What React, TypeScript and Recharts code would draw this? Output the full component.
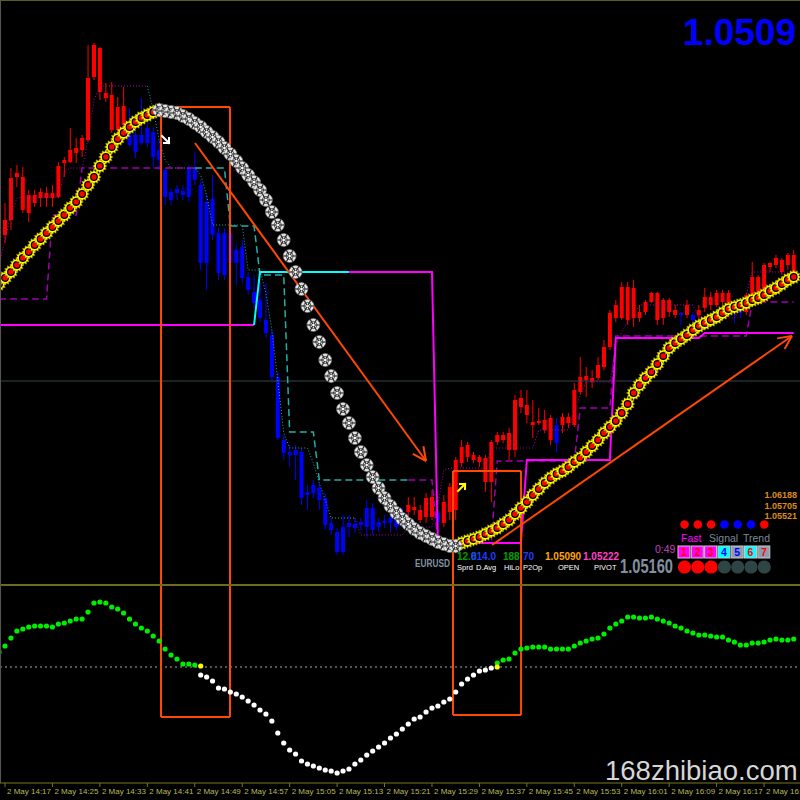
import React from 'react';
import { ComposedChart, Bar, Line, XAxis, YAxis, ReferenceLine, ReferenceDot } from 'recharts';

// prices in points above 1.04800 (1 point = 0.00001)
const openPts = [
  362, 390, 405, 448, 415, 412, 422, 427, 427, 427,
  428, 462, 463, 472, 475, 485, 548, 533, 527, 495,
  495, 500, 502, 490, 490, 497, 493, 475, 455, 433,
  436, 434, 457, 457, 440, 423, 426, 392, 392, 392,
  375, 378, 348, 333, 325, 305, 290, 248, 185, 173,
  175, 173, 133, 140, 137, 127, 102, 93, 98, 102,
  101, 103, 117, 117, 103, 104, 107, 113, 113, 113,
  115, 105, 108, 108, 112, 102, 113, 115, 162, 168,
  165, 163, 143, 143, 183, 185, 175, 175, 218, 210,
  200, 202, 195, 185, 200, 200, 202, 200, 233, 245,
  243, 247, 258, 278, 307, 307, 305, 307, 307, 313,
  323, 305, 307, 313, 310, 312, 310, 310, 310, 317,
  320, 320, 323, 312, 317, 317, 313, 330, 332, 327,
  358, 360, 353, 360, 348,
];
const closePts = [
  422, 405, 447, 452, 448, 430, 430, 433, 432, 432,
  459, 465, 475, 477, 487, 547, 580, 577, 532, 530,
  518, 519, 480, 473, 482, 482, 468, 465, 428, 425,
  432, 430, 428, 445, 362, 362, 390, 352, 350, 362,
  362, 347, 335, 322, 307, 292, 248, 187, 172, 170,
  170, 127, 130, 132, 125, 100, 95, 73, 73, 98,
  97, 100, 98, 95, 98, 102, 102, 98, 102, 120,
  118, 115, 127, 128, 103, 123, 138, 165, 178, 180,
  170, 168, 167, 183, 190, 190, 192, 225, 227, 220,
  203, 204, 205, 207, 182, 208, 208, 235, 248, 249,
  247, 260, 278, 312, 320, 338, 338, 337, 313, 323,
  332, 332, 325, 325, 315, 310, 320, 305, 315, 328,
  328, 332, 332, 332, 313, 312, 330, 348, 348, 360,
  362, 367, 365, 370, 370,
];
const highPts = [
  427, 422, 457, 460, 458, 435, 435, 437, 438, 440,
  463, 468, 497, 487, 490, 580, 582, 578, 542, 543,
  528, 538, 517, 495, 527, 502, 497, 485, 457, 437,
  440, 440, 460, 473, 445, 430, 450, 397, 397, 397,
  380, 385, 353, 350, 343, 342, 295, 253, 190, 180,
  180, 177, 140, 145, 142, 132, 107, 97, 110, 110,
  107, 107, 125, 122, 107, 110, 112, 120, 117, 128,
  128, 120, 132, 135, 115, 130, 142, 168, 185, 183,
  173, 170, 170, 185, 193, 193, 197, 230, 235, 235,
  225, 217, 215, 210, 207, 212, 212, 242, 268, 258,
  255, 268, 285, 315, 325, 343, 343, 345, 320, 325,
  333, 333, 327, 327, 320, 313, 325, 313, 320, 337,
  333, 335, 335, 335, 320, 320, 332, 363, 350, 362,
  363, 370, 367, 372, 375,
];
const lowPts = [
  355, 382, 395, 438, 412, 403, 418, 418, 418, 418,
  427, 448, 462, 462, 468, 483, 545, 525, 523, 492,
  493, 495, 478, 467, 480, 478, 458, 455, 420, 420,
  425, 425, 423, 440, 355, 335, 385, 345, 345, 350,
  340, 342, 330, 317, 303, 287, 245, 185, 165, 158,
  145, 120, 115, 127, 115, 95, 90, 70, 70, 88,
  92, 95, 88, 90, 93, 97, 93, 95, 97, 105,
  110, 102, 102, 105, 98, 98, 105, 105, 158, 163,
  162, 158, 133, 123, 180, 182, 165, 168, 212, 202,
  187, 200, 192, 180, 173, 192, 197, 198, 230, 228,
  237, 245, 255, 275, 303, 305, 300, 298, 303, 310,
  322, 300, 300, 308, 307, 300, 307, 297, 305, 313,
  315, 318, 320, 308, 302, 307, 310, 327, 328, 325,
  353, 357, 350, 355, 345,
];

// moving average, yellow while rising, white while falling
const maPts = [
  341, 347, 353, 360, 367, 373, 380, 386, 392, 398,
  404, 410, 417, 423, 431, 440, 448, 459, 468, 478,
  486, 492, 498, 503, 507, 510, 513, 515, 514, 513,
  512, 509, 506, 502, 498, 493, 488, 483, 477, 471,
  464, 457, 450, 443, 435, 425, 413, 400, 385, 369,
  353, 336, 319, 300, 283, 265, 249, 232, 216, 202,
  187, 173, 160, 148, 137, 127, 119, 112, 106, 101,
  96, 92, 89, 86, 83, 81, 79, 79, 82, 84,
  86, 88, 91, 94, 97, 101, 105, 111, 117, 123,
  130, 136, 142, 147, 151, 154, 158, 163, 167, 173,
  179, 185, 192, 198, 204, 212, 221, 232, 240, 247,
  253, 261, 269, 277, 282, 286, 290, 295, 299, 302,
  305, 308, 312, 316, 318, 320, 322, 325, 327, 330,
  334, 337, 341, 345, 348,
];
const maTurns = [27, 77];

// lower oscillator
const oscVals = [
  15, 21, 29, 36, 38, 40, 41, 41, 41, 40,
  43, 44, 46, 48, 48, 55, 64, 65, 64, 60,
  58, 54, 48, 43, 39, 36, 31, 26, 18, 12,
  8, 3, 3, 2, -8, -10, -14, -21, -22, -25,
  -27, -30, -34, -38, -43, -47, -54, -66, -76, -83,
  -87, -94, -97, -99, -101, -103, -104, -106, -104, -102,
  -97, -93, -88, -84, -80, -76, -71, -67, -62, -57,
  -52, -50, -45, -41, -39, -35, -32, -25, -17, -12,
  -8, -4, -3, -1, 4, 7, 8, 14, 18, 19,
  20, 20, 20, 18, 18, 18, 18, 21, 24, 26,
  28, 29, 33, 39, 43, 46, 50, 50, 49, 49,
  50, 48, 46, 44, 41, 39, 36, 34, 32, 32,
  31, 30, 30, 27, 25, 22, 22, 24, 24, 25,
  27, 28, 27, 27, 28,
];
const oscCross = [[34, 1], [84, 0]];

// step levels: [fromBar, toBar, level]
const magentaSolidRuns = [[0, 43, 300], [59, 73, 353], [74, 88, 82], [89, 103, 165], [104, 118, 287], [119, 134, 292]];
const cyanSolidRuns = [[43, 43, 300], [44, 59, 353]];
const purpleDashRuns = [[0, 8, 326], [9, 13, 410], [14, 33, 457], [69, 73, 145], [74, 83, 82], [84, 97, 164], [98, 103, 217], [104, 126, 289], [127, 134, 323]];
const tealDashRuns = [[33, 38, 457], [39, 43, 399], [44, 48, 350], [49, 53, 193], [54, 69, 145]];
const purpleDotRuns = [
  [0, 0, 360], [1, 1, 385], [2, 2, 410], [3, 3, 427], [4, 10, 428], [11, 11, 453], [12, 14, 457], [15, 15, 485], [16, 16, 525], [17, 25, 539],
  [60, 60, 107], [61, 68, 90], [69, 73, 98], [74, 74, 120], [75, 75, 155], [76, 82, 157], [83, 90, 177], [91, 96, 195], [97, 97, 215], [98, 98, 230],
  [99, 103, 243], [104, 104, 280], [105, 105, 293], [106, 106, 303], [107, 107, 310], [108, 117, 320], [118, 124, 307], [125, 125, 320], [126, 126, 330], [127, 134, 353],
];
const tealDotRuns = [
  [25, 25, 539], [26, 26, 515], [27, 27, 485], [28, 28, 465], [29, 33, 457], [34, 34, 450], [35, 35, 430], [36, 41, 400], [42, 44, 355],
  [45, 45, 332], [46, 46, 295], [47, 47, 245], [48, 48, 192], [49, 52, 177], [53, 53, 162], [54, 54, 142], [55, 55, 125], [56, 60, 107],
];
const grayLevel = 244;

const tickIdx = [1, 9, 17, 25, 33, 41, 49, 57, 65, 73, 81, 89, 97, 105, 113, 121, 129];
const tickLabels = [
  '2 May 14:17', '2 May 14:25', '2 May 14:33', '2 May 14:41', '2 May 14:49', '2 May 14:57',
  '2 May 15:05', '2 May 15:13', '2 May 15:21', '2 May 15:29', '2 May 15:37', '2 May 15:45',
  '2 May 15:53', '2 May 16:01', '2 May 16:09', '2 May 16:17', '2 May 16:25',
];

// annotation boxes and arrows, in bar / point units
const boxes = [
  { x1: 27.31, x2: 38.94, top: 518, bottom: -50 },
  { x1: 76.55, x2: 88.02, top: 154, bottom: -48 },
];
const trendArrows = [
  [{ x: 33.04, y: 482 }, { x: 72.0, y: 164 }],
  [{ x: 83.13, y: 80 }, { x: 133.7, y: 289 }],
];

const N = openPts.length;
const X_DOMAIN = [0.157, 135.06];
const MAIN_TOP = 625;
const MAIN_BOTTOM = 40;
const LOW_DOMAIN = [-116, 82];
const ORANGE = '#ff4800';
const FONT = '"Liberation Sans", Arial, sans-serif';

const expand = (runs: number[][]) => {
  const a: (number | null)[] = new Array(N).fill(null);
  runs.forEach(([s, e, v]) => {
    for (let k = s; k <= e; k++) a[k] = v;
  });
  return a;
};

const magSolid = expand(magentaSolidRuns);
const cyanSolid = expand(cyanSolidRuns);
const purpleDash = expand(purpleDashRuns);
const tealDash = expand(tealDashRuns);
const purpleDot = expand(purpleDotRuns);
const tealDot = expand(tealDotRuns);

const mainRows = openPts.map((o, i) => ({
  i,
  open: o,
  close: closePts[i],
  high: highPts[i],
  low: lowPts[i],
  range: [lowPts[i], highPts[i]],
  maUp: i <= maTurns[0] || i >= maTurns[1] ? maPts[i] : null,
  maDown: i >= maTurns[0] && i <= maTurns[1] ? maPts[i] : null,
  mag: magSolid[i],
  cyan: cyanSolid[i],
  pDash: purpleDash[i],
  tDash: tealDash[i],
  pDot: purpleDot[i],
  tDot: tealDot[i],
}));

const lowRows = oscVals.map((v, i) => {
  const c = oscCross.find((p) => p[0] === i);
  return { i, osc: v, cross: c ? c[1] : null };
});

const renderCandle = (props: any) => {
  const { x, y, width, height, payload } = props;
  if (!payload || x == null) return <g />;
  const { open, close, high, low } = payload;
  const top = Math.min(y, y + height);
  const h = Math.abs(height);
  const span = high - low || 1;
  const py = (p: number) => top + ((high - p) / span) * h;
  const color = close >= open ? '#ff0000' : '#0000ff';
  const cx = x + width / 2;
  const bTop = py(Math.max(open, close));
  const bBot = py(Math.min(open, close));
  return (
    <g>
      <line x1={cx} x2={cx} y1={top} y2={top + h} stroke={color} strokeWidth={1} />
      <rect x={x} y={bTop} width={width} height={Math.max(1, bBot - bTop)} fill={color} />
    </g>
  );
};

const gearPoints = (cx: number, cy: number) => {
  const pts: string[] = [];
  for (let k = 0; k < 24; k++) {
    const r = k % 2 === 0 ? 7.2 : 5.2;
    const a = (k * Math.PI) / 12;
    pts.push(`${cx + r * Math.cos(a)},${cy + r * Math.sin(a)}`);
  }
  return pts.join(' ');
};

const yellowDot = (p: any) => {
  const { cx, cy, index, value } = p;
  if (value == null || cy == null) return <g key={`y${index}`} />;
  return (
    <g key={`y${index}`}>
      <polygon points={gearPoints(cx, cy)} fill="#ffff00" stroke="#9a8a00" strokeWidth={0.5} />
      <circle cx={cx} cy={cy} r={3.3} fill="#ff0000" stroke="#000" strokeWidth={1.2} />
    </g>
  );
};

const snowDot = (p: any) => {
  const { cx, cy, index, value } = p;
  if (value == null || cy == null) return <g key={`s${index}`} />;
  const r = 6.5;
  const spokes = [0, 60, 120].map((d) => {
    const a = (d * Math.PI) / 180;
    return (
      <line key={d} x1={cx - r * Math.cos(a)} y1={cy - r * Math.sin(a)} x2={cx + r * Math.cos(a)} y2={cy + r * Math.sin(a)} stroke="#222" strokeWidth={1.1} />
    );
  });
  return (
    <g key={`s${index}`}>
      <circle cx={cx} cy={cy} r={r} fill="#e6e6e6" stroke="#777" strokeWidth={0.6} />
      {spokes}
      <circle cx={cx} cy={cy} r={3.6} fill="none" stroke="#333" strokeWidth={0.8} />
      <circle cx={cx} cy={cy} r={1.3} fill="#fff" />
    </g>
  );
};

const oscDot = (p: any) => {
  const { cx, cy, index, value } = p;
  if (value == null || cy == null) return <g key={`o${index}`} />;
  return <circle key={`o${index}`} cx={cx} cy={cy} r={2.6} fill={value > 0 ? '#00ee00' : '#ffffff'} />;
};

const crossDot = (p: any) => {
  const { cx, cy, index, value } = p;
  if (value == null || cy == null) return <g key={`c${index}`} />;
  return <circle key={`c${index}`} cx={cx} cy={cy} r={2.6} fill="#ffff00" />;
};

const arrowShape = (p: any) => {
  const { x1, y1, x2, y2 } = p;
  const a = Math.atan2(y2 - y1, x2 - x1);
  const L = 15;
  const w = 0.45;
  return (
    <g>
      <line x1={x1} y1={y1} x2={x2} y2={y2} stroke={ORANGE} strokeWidth={2} />
      <line x1={x2} y1={y2} x2={x2 - L * Math.cos(a - w)} y2={y2 - L * Math.sin(a - w)} stroke={ORANGE} strokeWidth={2} />
      <line x1={x2} y1={y2} x2={x2 - L * Math.cos(a + w)} y2={y2 - L * Math.sin(a + w)} stroke={ORANGE} strokeWidth={2} />
    </g>
  );
};

const smallArrow = (color: string, down: boolean) => (p: any) => {
  const { cx, cy } = p;
  const s = down ? 1 : -1;
  return (
    <g stroke={color} strokeWidth={2} fill="none" strokeLinecap="square">
      <line x1={cx - 4} y1={cy - 4 * s} x2={cx + 3} y2={cy + 3 * s} />
      <polyline points={`${cx + 3},${cy - 2 * s} ${cx + 3},${cy + 3 * s} ${cx - 2},${cy + 3 * s}`} />
    </g>
  );
};

const AxisTick = (props: any) => {
  const { x, y, payload } = props;
  const k = tickIdx.indexOf(payload.value);
  return (
    <text x={x + 2} y={y + 7} fill="#b8b85c" fontSize={8} fontFamily={FONT} textAnchor="start">
      {k >= 0 ? tickLabels[k] : ''}
    </text>
  );
};

const boxCols = ['#ff00ff', '#ff00ff', '#ff00ff', '#00ffff', '#8c9cb0', '#00ffff', '#8c9cb0'];
const boxText = ['#ff0000', '#ff0000', '#ff0000', '#0000ff', '#0000ff', '#ff0000', '#ff0000'];
const dotCols = ['#ff0000', '#ff0000', '#ff0000', '#0000ff', '#0000ff', '#0000ff', '#ff0000'];
const lampCols = ['#ff0000', '#ff0000', '#ff0000', '#2f4545', '#2f4545', '#2f4545', '#2f4545'];

const App: React.FC = () => {
  return (
    <div style={{ position: 'absolute', left: 0, top: 0, width: 800, height: 800, background: '#000', overflow: 'hidden' }}>
      <div style={{ position: 'absolute', left: 0, top: 0 }}>
        <ComposedChart width={800} height={585} data={mainRows} margin={{ top: 0, right: 0, bottom: 0, left: 0 }}>
          <XAxis type="number" dataKey="i" domain={X_DOMAIN} allowDataOverflow hide />
          <YAxis type="number" domain={[MAIN_BOTTOM, MAIN_TOP]} allowDataOverflow hide />
          <ReferenceLine y={grayLevel} stroke="#354848" strokeWidth={1} />
          <Bar dataKey="range" barSize={4} shape={renderCandle} isAnimationActive={false} />
          <Line dataKey="pDot" stroke="#b000b0" strokeWidth={1} strokeDasharray="1 2" dot={false} isAnimationActive={false} />
          <Line dataKey="tDot" stroke="#20a8a0" strokeWidth={1} strokeDasharray="1 2" dot={false} isAnimationActive={false} />
          <Line dataKey="pDash" stroke="#a000b0" strokeWidth={1.5} strokeDasharray="7 4" dot={false} isAnimationActive={false} />
          <Line dataKey="tDash" stroke="#20b0a8" strokeWidth={1.5} strokeDasharray="7 4" dot={false} isAnimationActive={false} />
          <Line dataKey="mag" stroke="#ff00ff" strokeWidth={2} dot={false} isAnimationActive={false} />
          <Line dataKey="cyan" stroke="#00ffff" strokeWidth={2} dot={false} isAnimationActive={false} />
          <Line dataKey="maUp" stroke="#ffff00" strokeWidth={2} dot={yellowDot} isAnimationActive={false} />
          <Line dataKey="maDown" stroke="none" dot={snowDot} isAnimationActive={false} />
          {boxes.map((b, k) => (
            <ReferenceLine key={`bl${k}`} segment={[{ x: b.x1, y: b.top }, { x: b.x1, y: MAIN_BOTTOM }]} stroke={ORANGE} strokeWidth={2} />
          ))}
          {boxes.map((b, k) => (
            <ReferenceLine key={`br${k}`} segment={[{ x: b.x2, y: b.top }, { x: b.x2, y: MAIN_BOTTOM }]} stroke={ORANGE} strokeWidth={2} />
          ))}
          {boxes.map((b, k) => (
            <ReferenceLine key={`bt${k}`} segment={[{ x: b.x1, y: b.top }, { x: b.x2, y: b.top }]} stroke={ORANGE} strokeWidth={2} />
          ))}
          {trendArrows.map((s, k) => (
            <ReferenceLine key={`ar${k}`} segment={s} shape={arrowShape} />
          ))}
          <ReferenceDot x={28.15} y={485} r={0} shape={smallArrow('#ffffff', true)} />
          <ReferenceDot x={78.07} y={138} r={0} shape={smallArrow('#ffff00', false)} />
        </ComposedChart>
      </div>
      <div style={{ position: 'absolute', left: 0, top: 585 }}>
        <ComposedChart width={800} height={215} data={lowRows} margin={{ top: 0, right: 0, bottom: 0, left: 0 }}>
          <XAxis
            type="number"
            dataKey="i"
            domain={X_DOMAIN}
            allowDataOverflow
            ticks={tickIdx}
            interval={0}
            height={17}
            tickSize={4}
            tickMargin={0}
            axisLine={{ stroke: '#78781e' }}
            tickLine={{ stroke: '#78781e' }}
            tick={<AxisTick />}
          />
          <YAxis type="number" domain={LOW_DOMAIN} allowDataOverflow hide />
          <ReferenceLine y={0} stroke="#aaaaaa" strokeDasharray="2 3" />
          <Line dataKey="osc" stroke="none" dot={oscDot} isAnimationActive={false} />
          <Line dataKey="cross" stroke="none" dot={crossDot} isAnimationActive={false} />
          {boxes.map((b, k) => (
            <ReferenceLine key={`ll${k}`} segment={[{ x: b.x1, y: LOW_DOMAIN[1] }, { x: b.x1, y: b.bottom }]} stroke={ORANGE} strokeWidth={2} />
          ))}
          {boxes.map((b, k) => (
            <ReferenceLine key={`lr${k}`} segment={[{ x: b.x2, y: LOW_DOMAIN[1] }, { x: b.x2, y: b.bottom }]} stroke={ORANGE} strokeWidth={2} />
          ))}
          {boxes.map((b, k) => (
            <ReferenceLine key={`lb${k}`} segment={[{ x: b.x1, y: b.bottom }, { x: b.x2, y: b.bottom }]} stroke={ORANGE} strokeWidth={2} />
          ))}
        </ComposedChart>
      </div>
      <svg width={800} height={800} style={{ position: 'absolute', left: 0, top: 0, pointerEvents: 'none' }} fontFamily={FONT}>
        <line x1={0} x2={800} y1={0.5} y2={0.5} stroke="#5c5c1c" />
        <line x1={0} x2={800} y1={585} y2={585} stroke="#6c6c1c" strokeWidth={2} />
        <line x1={0.5} x2={0.5} y1={0} y2={783} stroke="#555" />
        <text x={796} y={45} textAnchor="end" fontSize={37} fontWeight="bold" fill="#0000ff">1.0509</text>
        <text x={605} y={780} fontSize={27.5} fill="#d6d6d6">168zhibiao.com</text>

        <text x={797} y={498} textAnchor="end" fontSize={9} fontWeight="bold" fill="#dc8c1c">1.06188</text>
        <text x={797} y={508.5} textAnchor="end" fontSize={9} fontWeight="bold" fill="#dc8c1c">1.05705</text>
        <text x={797} y={519} textAnchor="end" fontSize={9} fontWeight="bold" fill="#dc8c1c">1.05521</text>
        {dotCols.map((c, k) => (
          <circle key={`dc${k}`} cx={684.5 + 13.3 * k} cy={524.5} r={4.3} fill={c} />
        ))}
        <text x={681} y={542} fontSize={10.5} fill="#ff00ff">Fast</text>
        <text x={709} y={542} fontSize={10.5} fill="#7a8a9a">Signal</text>
        <text x={743} y={542} fontSize={10.5} fill="#7a8a9a">Trend</text>
        {boxCols.map((c, k) => (
          <g key={`bx${k}`}>
            <rect x={678 + 13.3 * k} y={546} width={12} height={12} fill={c} stroke="#c8c8c8" strokeWidth={1} />
            <text x={684 + 13.3 * k} y={556} textAnchor="middle" fontSize={10.5} fontWeight="bold" fill={boxText[k]}>{k + 1}</text>
          </g>
        ))}
        {lampCols.map((c, k) => (
          <circle key={`lc${k}`} cx={684.5 + 13.3 * k} cy={567} r={6.6} fill={c} />
        ))}
        <text x={655} y={553} fontSize={10.5} fill="#c040c0">0:49</text>
        <text x={620} y={573} fontSize={21} fontWeight="bold" fill="#8090a0" textLength={53} lengthAdjust="spacingAndGlyphs">1.05160</text>
        <text x={415} y={567} fontSize={11} fontWeight="bold" fill="#8090a0" textLength={35} lengthAdjust="spacingAndGlyphs">EURUSD</text>

        <text x={457} y={560} fontSize={10} fontWeight="bold" fill="#00a000">12.0</text>
        <text x={471} y={560} fontSize={10} fontWeight="bold" fill="#1e3cff">814.0</text>
        <text x={503} y={560} fontSize={10} fontWeight="bold" fill="#00a000">188</text>
        <text x={523} y={560} fontSize={10} fontWeight="bold" fill="#1e3cff">70</text>
        <text x={545} y={560} fontSize={10} fontWeight="bold" fill="#ffa500">1.05090</text>
        <text x={583} y={560} fontSize={10} fontWeight="bold" fill="#ff40c8">1.05222</text>
        <text x={457} y={570} fontSize={7.5} fill="#ffffff">Sprd</text>
        <text x={476} y={570} fontSize={7.5} fill="#ffffff">D.Avg</text>
        <text x={504} y={570} fontSize={7.5} fill="#ffffff">HiLo</text>
        <text x={523} y={570} fontSize={7.5} fill="#ffffff">P2Op</text>
        <text x={558} y={570} fontSize={7.5} fill="#ffffff">OPEN</text>
        <text x={594} y={570} fontSize={7.5} fill="#ffffff">PIVOT</text>
      </svg>
    </div>
  );
};

export default App;
